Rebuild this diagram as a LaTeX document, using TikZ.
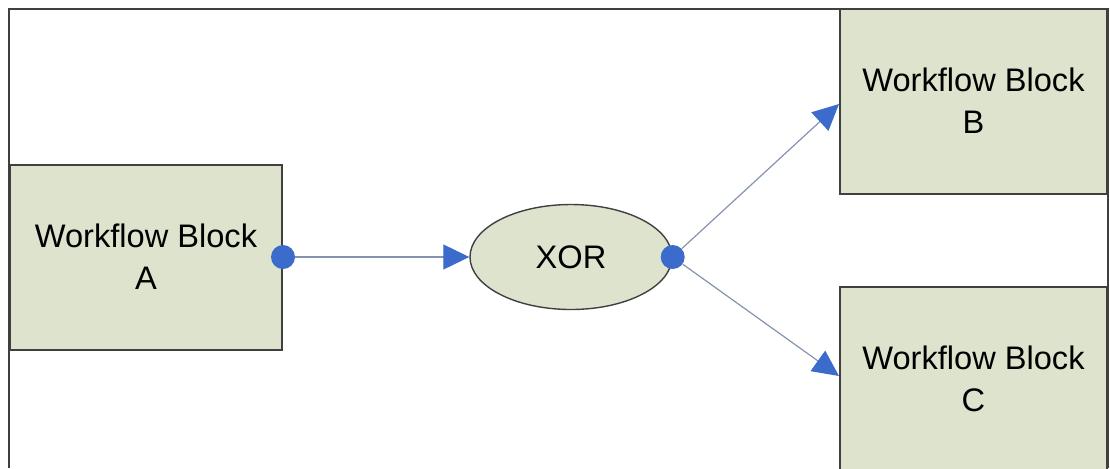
\documentclass[tikz,border=0pt]{standalone}
\usepackage{fontspec}
\setmainfont{Liberation Sans}
\usetikzlibrary{shapes.geometric, arrows.meta, positioning}
\definecolor{blockfill}{HTML}{DDE3CD}
\definecolor{blockline}{HTML}{404040}
\definecolor{portblue}{HTML}{3B6CCB}
\definecolor{flowline}{HTML}{8494AC}

\begin{document}
\begin{tikzpicture}[x=0.5pt, y=-0.5pt]
    % Styles
    \tikzstyle{block} = [rectangle, minimum width=136pt, minimum height=92.5pt, text centered, align=center, draw=blockline, line width=1pt, fill=blockfill, font=\fontsize{16.3}{21}\selectfont]
    \tikzstyle{gate} = [ellipse, minimum width=101pt, minimum height=52.5pt, inner sep=0pt, text centered, draw=blockline, line width=0.7pt, fill=blockfill, font=\fontsize{16.3}{21}\selectfont]
    \tikzstyle{port} = [circle, fill=portblue, minimum size=12pt, inner sep=0pt]
    \tikzstyle{arrow} = [draw=flowline, line width=0.6pt, -{Triangle[length=13pt, width=12.5pt, color=portblue]}]

    \clip (0,0) rectangle (1110,468);

    % Frame
    \draw[blockline, line width=1pt] (9,468) -- (9,9) -- (1108,9) -- (1108,468);

    % Nodes - using absolute positioning
    \node[block] (blockA) at (146,257) {Workflow Block\\A};
    \node[gate] (xor) at (571,257) {XOR};
    \node[block, minimum width=133.5pt] (blockB) at (973.5,101) {Workflow Block\\B};
    \node[block, minimum width=133.5pt] (blockC) at (973.5,379) {Workflow Block\\C};

    % Ports
    \node[port] (portA) at (blockA.east) {};
    \node[port] (portX) at (xor.east) {};

    % Arrows
    \draw[arrow] (portA) -- (xor.west);
    \draw[arrow] (portX) -- ([yshift=-1.5pt]blockB.west);
    \draw[arrow] (portX) -- ([yshift=1.5pt]blockC.west);
\end{tikzpicture}
\end{document}
